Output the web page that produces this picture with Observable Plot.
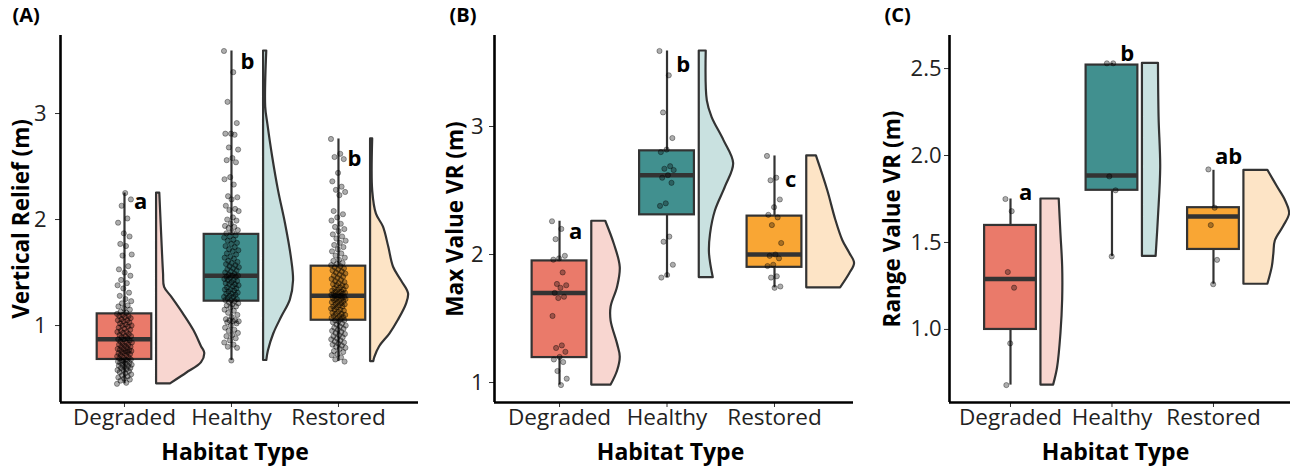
<!DOCTYPE html>
<html>
<head>
<meta charset="utf-8">
<script src="https://cdn.jsdelivr.net/npm/d3@7"></script>
<script src="https://cdn.jsdelivr.net/npm/@observablehq/plot@0.6"></script>
<style>
  html, body { margin: 0; padding: 0; background: #fff; }
  #wrap { position: relative; width: 1290px; height: 468px; overflow: hidden; }
  .panel { position: absolute; top: 0; width: 430px; height: 468px; }
</style>
</head>
<body>
<div id="wrap">
  <div class="panel" id="pA" style="left:0px"></div>
  <div class="panel" id="pB" style="left:430px"></div>
  <div class="panel" id="pC" style="left:860px"></div>
</div>
<script>
// ---------- shared ----------
const categories = ["Degraded", "Healthy", "Restored"];
const boxColors = ["#EA7A6A", "#41908F", "#F9A634"];
const violinColors = ["#F8D6D0", "#C9E1E0", "#FDE4C6"];

// ---------- Panel A : Vertical Relief (m) ----------
const aDegraded = [0.45,0.46,0.48,0.49,0.50,0.51,0.52,0.53,0.54,0.55,0.56,0.57,0.58,0.58,0.59,0.60,0.60,0.61,0.62,0.62,0.63,0.63,0.64,0.65,0.65,0.66,0.66,0.67,0.67,0.68,
  0.68,0.69,0.70,0.70,0.71,0.72,0.72,0.73,0.74,0.74,0.75,0.75,0.76,0.76,0.77,0.77,0.78,0.78,0.79,0.80,0.80,0.81,0.82,0.82,0.83,0.84,0.84,0.85,0.86,0.87,
  0.87,0.88,0.89,0.90,0.90,0.91,0.92,0.93,0.94,0.94,0.95,0.96,0.97,0.98,0.99,1.00,1.00,1.01,1.02,1.03,1.04,1.05,1.05,1.06,1.07,1.08,1.09,1.09,1.10,1.11,
  1.12,1.13,1.15,1.16,1.18,1.19,1.21,1.23,1.25,1.28,1.31,1.35,1.38,1.40,1.43,1.47,1.50,1.53,1.56,1.66,1.67,1.75,1.77,1.84,1.87,1.97,2.01,2.13,2.19,2.25];
const aHealthy = [3.59,3.39,3.11,2.91,2.81,2.81,2.80,2.68,2.66,2.58,2.56,2.54,2.40,2.38,2.33,2.22,2.21,2.19,2.13,2.10,2.09,2.08,2.02,2.00,1.99,1.96,1.94,1.93,1.92,1.90,1.88,1.87,
  1.85,1.84,1.83,1.81,1.80,1.78,1.77,1.75,1.74,1.72,1.71,1.70,1.68,1.67,1.65,1.64,1.63,1.61,1.60,1.59,1.58,1.57,1.56,1.55,1.54,1.53,1.52,1.51,1.50,1.49,1.48,1.47,
  1.47,1.46,1.46,1.45,1.44,1.43,1.43,1.42,1.41,1.40,1.39,1.39,1.38,1.37,1.36,1.35,1.34,1.34,1.33,1.32,1.31,1.30,1.30,1.29,1.28,1.27,1.27,1.26,1.25,1.24,1.24,1.23,
  1.22,1.21,1.20,1.19,1.18,1.17,1.15,1.14,1.12,1.10,1.08,1.06,1.05,1.05,1.04,1.04,1.03,1.02,1.00,0.98,0.96,0.95,0.93,0.91,0.90,0.88,0.86,0.84,0.82,0.80,0.79,0.67];
const aRestored = [2.76,2.62,2.59,2.57,2.44,2.36,2.31,2.28,2.26,2.23,2.08,2.05,2.02,1.99,1.96,1.93,1.91,1.89,1.86,1.84,1.82,1.80,1.78,1.76,1.74,1.72,1.70,1.68,1.66,1.64,1.62,1.61,1.59,1.58,1.57,
  1.56,1.55,1.54,1.53,1.52,1.51,1.50,1.49,1.48,1.47,1.46,1.45,1.44,1.43,1.42,1.41,1.40,1.39,1.38,1.38,1.37,1.36,1.35,1.34,1.34,1.33,1.32,1.32,1.31,1.31,1.30,1.30,1.29,1.29,1.28,
  1.28,1.27,1.27,1.26,1.26,1.25,1.25,1.24,1.24,1.23,1.22,1.22,1.21,1.20,1.20,1.19,1.18,1.18,1.17,1.16,1.15,1.15,1.14,1.13,1.12,1.11,1.11,1.10,1.09,1.09,1.08,1.07,1.07,1.06,1.05,
  1.05,1.04,1.03,1.02,1.01,1.00,0.99,0.98,0.97,0.96,0.95,0.94,0.93,0.92,0.91,0.90,0.89,0.88,0.87,0.86,0.85,0.84,0.83,0.82,0.81,0.80,0.79,0.78,0.76,0.75,0.73,0.72,0.70,0.68,0.66];
const aLo  = [0.45, 0.67, 0.66];
const aQ1  = [0.68, 1.23, 1.05];
const aMed = [0.87, 1.47, 1.28];
const aQ3  = [1.11, 1.86, 1.56];
const aHi  = [2.25, 3.59, 2.76];
// density profile [value, density width]
const aViolinDegraded = [[2.25,0.03],[1.80,0.05],[1.49,0.065],[1.36,0.075],[1.27,0.14],[1.11,0.25],[0.95,0.35],[0.80,0.42],[0.74,0.45],[0.65,0.42],[0.55,0.28],[0.45,0.13]];
const aViolinHealthy  = [[3.59,0.03],[3.06,0.02],[2.90,0.04],[2.59,0.085],[2.27,0.14],[1.96,0.205],[1.64,0.26],[1.42,0.28],[1.24,0.25],[1.08,0.17],[0.92,0.095],[0.76,0.045],[0.67,0.03]];
const aViolinRestored = [[2.76,0.02],[2.27,0.02],[2.05,0.055],[1.93,0.12],[1.74,0.17],[1.55,0.215],[1.42,0.29],[1.30,0.355],[1.20,0.335],[1.05,0.26],[0.92,0.18],[0.80,0.085],[0.70,0.04],[0.66,0.03]];
const aLetters = ["a", "b", "b"];
const aLetterY = [2.17, 3.485, 2.57];

// ---------- Panel B : Max Value VR (m) ----------
const bDegraded = [2.26,2.20,2.12,1.99,1.97,1.96,1.86,1.77,1.76,1.74,1.70,1.67,1.66,1.52,1.29,1.27,1.24,1.20,1.18,1.16,1.09,1.03,0.98];
const bHealthy  = [3.59,3.40,3.11,2.91,2.82,2.80,2.69,2.67,2.66,2.62,2.60,2.56,2.40,2.38,2.14,2.10,1.92,1.84,1.82];
const bRestored = [2.77,2.60,2.58,2.43,2.37,2.31,2.29,2.23,2.09,2.00,1.99,1.97,1.92,1.91,1.83,1.82,1.75,1.74];
const bLo  = [0.98, 1.82, 1.74];
const bQ1  = [1.195, 2.31, 1.90];
const bMed = [1.70, 2.62, 2.00];
const bQ3  = [1.95, 2.81, 2.30];
const bHi  = [2.26, 3.59, 2.77];
const bViolinDegraded = [[2.26,0.13],[2.08,0.21],[1.90,0.265],[1.745,0.24],[1.59,0.18],[1.48,0.18],[1.30,0.24],[1.20,0.265],[1.09,0.24],[0.98,0.18]];
const bViolinHealthy  = [[3.59,0.065],[3.20,0.075],[3.07,0.12],[2.89,0.23],[2.71,0.32],[2.53,0.245],[2.34,0.15],[2.16,0.105],[2.01,0.095],[1.82,0.13]];
const bViolinRestored = [[2.77,0.09],[2.50,0.195],[2.27,0.27],[2.11,0.335],[2.01,0.40],[1.93,0.445],[1.85,0.40],[1.74,0.315]];
const bLetters = ["a", "b", "c"];
const bLetterY = [2.18, 3.48, 2.58];

// ---------- Panel C : Range Value VR (m) ----------
const cDegraded = [1.75, 1.68, 1.33, 1.24, 0.92, 0.68];
const cHealthy  = [2.53, 2.53, 1.88, 1.80, 1.42];
const cRestored = [1.92, 1.70, 1.60, 1.40, 1.26];
const cLo  = [0.68, 1.42, 1.26];
const cQ1  = [1.00, 1.80, 1.46];
const cMed = [1.29, 1.885, 1.65];
const cQ3  = [1.598, 2.52, 1.70];
const cHi  = [1.75, 2.53, 1.915];
const cViolinDegraded = [[1.75,0.18],[1.55,0.197],[1.36,0.214],[1.17,0.214],[0.975,0.197],[0.78,0.164],[0.68,0.125]];
const cViolinHealthy  = [[2.53,0.158],[2.22,0.164],[1.93,0.18],[1.645,0.158],[1.42,0.135]];
const cViolinRestored = [[1.915,0.236],[1.82,0.33],[1.74,0.41],[1.665,0.45],[1.59,0.39],[1.51,0.31],[1.435,0.295],[1.36,0.28],[1.26,0.236]];
const cLetters = ["a", "b", "ab"];
const cLetterY = [1.787, 2.586, 1.99];

// ---------- builder ----------
const FONT = "'Open Sans', 'Noto Sans', sans-serif";

function makePanel(cfg) {
  const groups = cfg.points;
  const pts = [];
  groups.forEach((vals, g) => vals.forEach((v, i) => pts.push({g, i, v})));
  const boxes = categories.map((c, g) => ({g, lo: cfg.lo[g], q1: cfg.q1[g], med: cfg.med[g], q3: cfg.q3[g], hi: cfg.hi[g]}));
  const BW = 0.255, VOFF = 0.3;
  const jit = (i) => (((i * 0.6180339887) % 1) - 0.5) * 2 * cfg.jitter;

  const violinMarks = cfg.violins.map((prof, g) =>
    Plot.areaX(prof, {
      x1: () => g + 1 + VOFF,
      x2: d => g + 1 + VOFF + d[1],
      y: d => d[0],
      fill: violinColors[g],
      stroke: "#333",
      strokeWidth: 2.2,
      curve: "catmull-rom"
    })
  );

  return Plot.plot({
    width: 430,
    height: 468,
    marginLeft: cfg.ml,
    marginRight: cfg.mr,
    marginTop: 35,
    marginBottom: 66,
    x: {type: "linear", domain: cfg.xDomain},
    y: {type: "linear", domain: cfg.yDomain},
    style: {fontFamily: FONT, background: "transparent", overflow: "visible"},
    marks: [
      // whiskers
      Plot.ruleX(boxes, {x: d => d.g + 1, y1: "lo", y2: "hi", stroke: "#333", strokeWidth: 2.2}),
      // boxes
      Plot.rect(boxes, {x1: d => d.g + 1 - BW, x2: d => d.g + 1 + BW, y1: "q1", y2: "q3",
        fill: d => boxColors[d.g], stroke: "#333", strokeWidth: 2.2}),
      // medians
      Plot.ruleY(boxes, {y: "med", x1: d => d.g + 1 - BW, x2: d => d.g + 1 + BW, stroke: "#333", strokeWidth: 4.5}),
      // half violins
      ...violinMarks,
      // jittered points
      Plot.dot(pts, {x: d => d.g + 1 + jit(d.i), y: "v", r: 2.6,
        fill: "#000", fillOpacity: 0.32, stroke: "#000", strokeOpacity: 0.4, strokeWidth: 0.9}),
      // significance letters
      Plot.text(cfg.letters, {x: (d, i) => i + 1 + 0.15, y: (d, i) => cfg.letterY[i], text: d => d,
        fontSize: 22, fontWeight: "bold", fill: "#000", textAnchor: "middle", lineAnchor: "middle"}),
      // axes
      Plot.axisY({ticks: cfg.yTicks, tickFormat: cfg.yFormat, tickSize: 5, tickPadding: cfg.ytp,
        fontSize: 22, label: null, stroke: "#333", fill: "#222"}),
      Plot.axisX({ticks: [1, 2, 3], tickFormat: d => categories[d - 1], tickSize: 5, tickPadding: 2,
        fontSize: 22.5, label: null, stroke: "#333", fill: "#222"}),
      Plot.ruleX([cfg.xDomain[0]], {stroke: "#000", strokeWidth: 2.6}),
      Plot.ruleY([cfg.yDomain[0]], {stroke: "#000", strokeWidth: 2.6}),
      // titles
      Plot.text([cfg.yTitle], {frameAnchor: "left", dx: cfg.ytdx, rotate: -90, text: d => d,
        fontSize: 22.5, fontWeight: "bold", fill: "#000", textAnchor: "middle", lineAnchor: "middle"}),
      Plot.text(["Habitat Type"], {frameAnchor: "bottom", dy: 50, dx: cfg.xtdx, text: d => d,
        fontSize: 23, fontWeight: "bold", fill: "#000", textAnchor: "middle", lineAnchor: "middle"}),
      Plot.text([cfg.tag], {frameAnchor: "top-left", dx: cfg.tagdx, dy: -20, text: d => d,
        fontSize: 20, fontWeight: "bold", fill: "#000", textAnchor: "start", lineAnchor: "middle"})
    ]
  });
}

document.getElementById("pA").appendChild(makePanel({
  points: [aDegraded, aHealthy, aRestored],
  lo: aLo, q1: aQ1, med: aMed, q3: aQ3, hi: aHi,
  violins: [aViolinDegraded, aViolinHealthy, aViolinRestored],
  letters: aLetters, letterY: aLetterY,
  ml: 60, mr: 12, xDomain: [0.402, 3.748], yDomain: [0.274, 3.736],
  yTicks: [1, 2, 3], yFormat: d3.format("d"), ytp: 9,
  jitter: 0.07,
  yTitle: "Vertical Relief (m)", ytdx: -39, xtdx: -4.5, tag: "(A)", tagdx: -48
}));

document.getElementById("pB").appendChild(makePanel({
  points: [bDegraded, bHealthy, bRestored],
  lo: bLo, q1: bQ1, med: bMed, q3: bQ3, hi: bHi,
  violins: [bViolinDegraded, bViolinHealthy, bViolinRestored],
  letters: bLetters, letterY: bLetterY,
  ml: 64, mr: 7, xDomain: [0.395, 3.735], yDomain: [0.844, 3.711],
  yTicks: [1, 2, 3], yFormat: d3.format("d"), ytp: 6,
  jitter: 0.07,
  yTitle: "Max Value VR (m)", ytdx: -39, xtdx: -3.5, tag: "(B)", tagdx: -45
}));

document.getElementById("pC").appendChild(makePanel({
  points: [cDegraded, cHealthy, cRestored],
  lo: cLo, q1: cQ1, med: cMed, q3: cQ3, hi: cHi,
  violins: [cViolinDegraded, cViolinHealthy, cViolinRestored],
  letters: cLetters, letterY: cLetterY,
  ml: 89, mr: 0, xDomain: [0.399, 3.759], yDomain: [0.58, 2.69],
  yTicks: [1.0, 1.5, 2.0, 2.5], yFormat: d3.format(".1f"), ytp: 3,
  jitter: 0.05,
  yTitle: "Range Value VR (m)", ytdx: -57, xtdx: -4.5, tag: "(C)", tagdx: -65
}));
</script>
</body>
</html>
